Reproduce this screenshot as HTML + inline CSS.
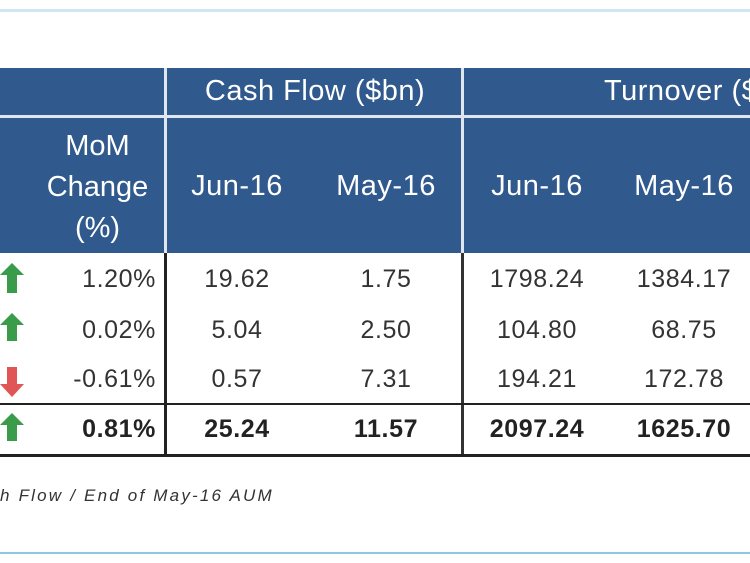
<!DOCTYPE html>
<html><head><meta charset="utf-8"><style>
html,body{margin:0;width:750px;height:563px;overflow:hidden}
body{background:#fff;position:relative;font-family:"Liberation Sans",Arial,sans-serif}
.a{position:absolute;white-space:nowrap;line-height:1.15}
.h{color:#fff;font-size:29px;transform:translateX(-50%);letter-spacing:0.5px}
.c{font-size:25px;color:#333;transform:translateX(-50%);letter-spacing:0.6px}
.r{font-size:25px;color:#333;text-align:right;letter-spacing:0.6px}
.b{font-weight:bold;color:#222;letter-spacing:0.6px}
</style></head><body>
<div class="a" style="left:0;top:9px;width:750px;height:3px;background:#cfe6f3"></div>
<div class="a" style="left:0;top:552px;width:750px;height:2px;background:#8cc6e8"></div>
<div class="a" style="left:0;top:68px;width:750px;height:185px;background:#30598d"></div>
<div class="a" style="left:0;top:115px;width:750px;height:3px;background:#dfe6ee"></div>
<div class="a" style="left:164px;top:68px;width:3px;height:185px;background:#dfe6ee"></div>
<div class="a" style="left:461px;top:68px;width:3px;height:185px;background:#dfe6ee"></div>
<div class="a h" style="left:315px;top:75px">Cash Flow ($bn)</div>
<div class="a" style="left:604px;top:75px;color:#fff;font-size:29px;letter-spacing:0.5px">Turnover ($bn)</div>
<div class="a" style="left:20px;top:126px;width:155px;text-align:center;color:#fff;font-size:29px;line-height:41px">MoM<br>Change<br>(%)</div>
<div class="a h" style="left:237px;top:170px">Jun-16</div>
<div class="a h" style="left:386px;top:170px">May-16</div>
<div class="a h" style="left:537px;top:170px">Jun-16</div>
<div class="a h" style="left:684px;top:170px">May-16</div>
<div class="a" style="left:164px;top:253px;width:3px;height:204px;background:#222"></div>
<div class="a" style="left:461px;top:253px;width:3px;height:204px;background:#333"></div>
<div class="a" style="left:0;top:403px;width:750px;height:2px;background:#222"></div>
<div class="a" style="left:0;top:454px;width:750px;height:3px;background:#222"></div>
<svg class="a" style="left:0;top:263px" width="28" height="185">
<g fill="#3a9b4a"><polygon points="12,0 24,12 17,12 17,30 7,30 7,12 0,12"/>
<polygon points="12,50 24,62 17,62 17,78 7,78 7,62 0,62"/>
<polygon points="12,150 24,162 17,162 17,178 7,178 7,162 0,162"/></g>
<polygon fill="#e05555" points="12,134 24,121 17,121 17,104 7,104 7,121 0,121"/>
</svg>
<div class="a r" style="left:20px;width:136px;top:265px">1.20%</div>
<div class="a r" style="left:20px;width:136px;top:316px">0.02%</div>
<div class="a r" style="left:20px;width:136px;top:365px">-0.61%</div>
<div class="a r b" style="left:20px;width:136px;top:415px">0.81%</div>
<div class="a c" style="left:237px;top:265px">19.62</div>
<div class="a c" style="left:386px;top:265px">1.75</div>
<div class="a c" style="left:537px;top:265px">1798.24</div>
<div class="a c" style="left:684px;top:265px">1384.17</div>
<div class="a c" style="left:237px;top:316px">5.04</div>
<div class="a c" style="left:386px;top:316px">2.50</div>
<div class="a c" style="left:537px;top:316px">104.80</div>
<div class="a c" style="left:684px;top:316px">68.75</div>
<div class="a c" style="left:237px;top:365px">0.57</div>
<div class="a c" style="left:386px;top:365px">7.31</div>
<div class="a c" style="left:537px;top:365px">194.21</div>
<div class="a c" style="left:684px;top:365px">172.78</div>
<div class="a c b" style="left:237px;top:415px">25.24</div>
<div class="a c b" style="left:386px;top:415px">11.57</div>
<div class="a c b" style="left:537px;top:415px">2097.24</div>
<div class="a c b" style="left:684px;top:415px">1625.70</div>
<div class="a" style="left:0;top:486px;font-size:17px;font-style:italic;color:#333;letter-spacing:2.2px">h Flow / End of May-16 AUM</div>
</body></html>
